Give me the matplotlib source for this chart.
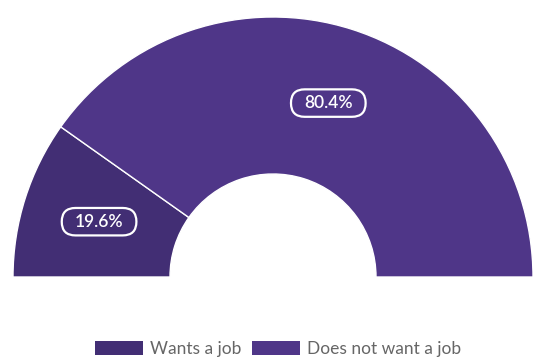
import matplotlib
matplotlib.use("Agg")
import matplotlib.pyplot as plt
import numpy as np
from matplotlib.patches import BoxStyle

categories = ["Wants a job", "Does not want a job"]
values = [19.6, 80.4]
labels = ["19.6%", "80.4%"]
colors = ["#422E74", "#4F3688"]

plt.rcParams['font.family'] = ['Lato', 'DejaVu Sans']

W, H = 534, 359
fig = plt.figure(figsize=(W / 100, H / 100), dpi=100)
ax = fig.add_axes([0, 0, 1, 1])

cx, cy = 273, 359 - 277
r_out, r_in = 260, 103

vals = values + [sum(values)]  # invisible lower half
wedges, _ = ax.pie(vals, startangle=180, counterclock=False, radius=r_out,
                   center=(cx, cy), colors=colors + ["none"],
                   wedgeprops=dict(width=r_out - r_in, edgecolor="white", linewidth=1))
wedges[2].set_visible(False)

ax.set_xlim(0, W)
ax.set_ylim(0, H)
ax.set_aspect("equal")
ax.axis("off")


def pill(x0, y0, width, height, mutation_size):
    padx = 0.75 * mutation_size
    pady = 0.33 * mutation_size
    h = height + 2 * pady
    style = BoxStyle.Round(pad=0, rounding_size=(h / 2) / mutation_size)
    return style(x0 - padx, y0 - pady, width + 2 * padx, h, mutation_size)


start = 180.0
total = sum(values)
r_mid = (r_out + r_in) / 2 + 1
for v, lab, col in zip(values, labels, colors):
    span = 180.0 * v / total
    mid = np.deg2rad(start - span / 2)
    start -= span
    ax.text(cx + r_mid * np.cos(mid), cy + r_mid * np.sin(mid), lab,
            ha="center", va="center", color="white", fontsize=12.5,
            fontweight="semibold",
            bbox=dict(boxstyle=pill, facecolor=col, edgecolor="white", linewidth=1.6))

leg = fig.legend(wedges[:2], categories, loc="center", ncol=2,
                 bbox_to_anchor=(278 / W, 10 / H), frameon=False,
                 fontsize=12.5, handlelength=2.75, handleheight=0.85,
                 handletextpad=0.4, columnspacing=0.6, labelcolor="#666666")
for h in leg.legend_handles:
    h.set_edgecolor("none")

fig.savefig("out.png", dpi=100)
